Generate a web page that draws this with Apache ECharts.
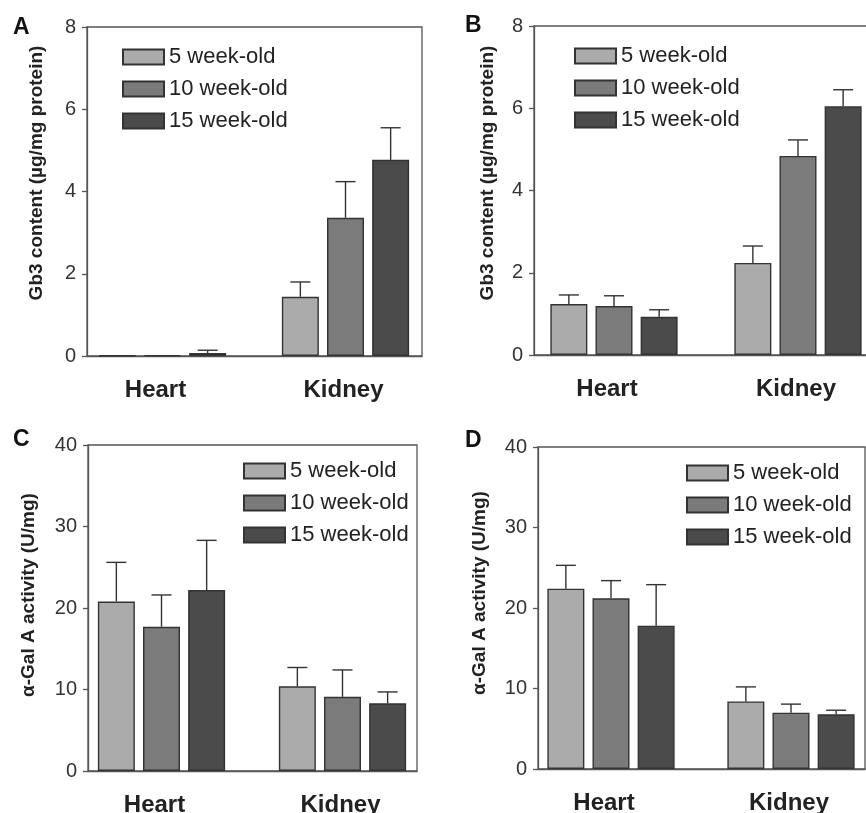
<!DOCTYPE html>
<html>
<head>
<meta charset="utf-8">
<script src="https://cdn.jsdelivr.net/npm/echarts@6/dist/echarts.min.js"></script>
<style>
html,body{margin:0;padding:0;background:#fff;}
#chart{width:866px;height:813px;}
</style>
</head>
<body>
<div id="chart"></div>
<script>
// ---- data ----
const categories = ['Heart', 'Kidney'];
const seriesNames = ['5 week-old', '10 week-old', '15 week-old'];
const panelLetters = ['A', 'B', 'C', 'D'];
const yTitles = ['Gb3 content (\u00b5g/mg protein)', 'Gb3 content (\u00b5g/mg protein)',
                 '\u03b1-Gal A activity (U/mg)', '\u03b1-Gal A activity (U/mg)'];
const gb3Ticks = [0, 2, 4, 6, 8];
const galTicks = [0, 10, 20, 30, 40];

// means [series][category]
const meansA = [[0.01, 1.44], [0.02, 3.36], [0.07, 4.77]];
const errA   = [[0, 0.36], [0, 0.88], [0.07, 0.78]];
const meansB = [[1.24, 2.24], [1.19, 4.84], [0.93, 6.05]];
const errB   = [[0.22, 0.41], [0.25, 0.39], [0.17, 0.40]];
const meansC = [[20.8, 10.4], [17.7, 9.1], [22.2, 8.3]];
const errC   = [[4.8, 2.3], [3.9, 3.3], [6.1, 1.4]];
const meansD = [[22.4, 8.4], [21.2, 7.0], [17.8, 6.8]];
const errD   = [[2.9, 1.8], [2.2, 1.06], [5.1, 0.5]];

// ---- style / layout ----
const FONT = 'Liberation Sans, Arial, Helvetica, sans-serif';
const colors = ['#ababab', '#7b7b7b', '#4b4b4b'];
const axisColor = '#555';
const barWidth = 37;
const barGapRatio = 0.22;
const W = 866;
const H = 813;
const catLabelStyle = { fontSize: 24, fontWeight: 'bold', color: '#222', fontFamily: FONT };

const panels = [
  { means: meansA, errs: errA, ticks: gb3Ticks,
    frame: {l: 87, r: 422, t: 27, b: 356}, data: {l: 71, r: 437},
    legend: {left: 122, top: 46}, letter: [13, 27.5], title: [37, 173] },
  { means: meansB, errs: errB, ticks: gb3Ticks,
    frame: {l: 534, r: 875, t: 26, b: 355}, data: {l: 522, r: 890},
    legend: {left: 574, top: 45}, letter: [465, 25.5], title: [488, 173] },
  { means: meansC, errs: errC, ticks: galTicks,
    frame: {l: 88, r: 417, t: 445, b: 771}, data: {l: 71, r: 433},
    legend: {left: 243, top: 460}, letter: [13, 440], title: [29, 595] },
  { means: meansD, errs: errD, ticks: galTicks,
    frame: {l: 538, r: 865, t: 447, b: 769}, data: {l: 521, r: 881},
    legend: {left: 686, top: 462}, letter: [465, 441], title: [480, 593] }
];

const grid = [], xAxis = [], yAxis = [], series = [], legend = [], graphic = [];

panels.forEach((p, i) => {
  const ymin = p.ticks[0], ymax = p.ticks[p.ticks.length - 1];
  const interval = p.ticks[1] - p.ticks[0];
  grid[i] = { left: p.frame.l, right: W - p.frame.r, top: p.frame.t, bottom: H - p.frame.b,
              show: true, borderColor: axisColor, borderWidth: 1.3,
              containLabel: false, outerBoundsMode: 'none' };
  grid[4 + i] = { left: p.data.l, right: W - p.data.r, top: p.frame.t, bottom: H - p.frame.b,
                  containLabel: false, outerBoundsMode: 'none' };
  xAxis[i] = { type: 'value', gridIndex: i, min: 0, max: 1,
               axisLine: { show: true, lineStyle: { color: axisColor, width: 1.3 } },
               axisTick: { show: false }, axisLabel: { show: false }, splitLine: { show: false } };
  yAxis[i] = { type: 'value', gridIndex: i, min: ymin, max: ymax, interval: interval,
               axisLine: { show: true, lineStyle: { color: axisColor, width: 1.3 } },
               axisTick: { show: true, inside: false, length: 5, lineStyle: { color: axisColor, width: 1.3 } },
               axisLabel: { fontSize: 20, color: '#333', fontFamily: FONT, margin: 11 },
               splitLine: { show: false } };
  xAxis[4 + i] = { type: 'category', gridIndex: 4 + i, data: categories,
                   axisLine: { show: false }, axisTick: { show: false },
                   axisLabel: Object.assign({}, catLabelStyle, {
                     margin: 22,
                     formatter: function (v, idx) { return (idx === 0 ? '{h|' : '{k|') + v + '}'; },
                     rich: {
                       h: Object.assign({}, catLabelStyle, { padding: [0, 14, 0, 0] }),
                       k: Object.assign({}, catLabelStyle, { padding: [0, 4, 0, 0] })
                     }
                   }) };
  yAxis[4 + i] = { type: 'value', gridIndex: 4 + i, min: ymin, max: ymax, show: false };

  seriesNames.forEach((name, s) => {
    series.push({
      type: 'bar', name: name, xAxisIndex: 4 + i, yAxisIndex: 4 + i,
      data: p.means[s], barWidth: barWidth, barGap: (barGapRatio * 100) + '%',
      itemStyle: { color: colors[s], borderColor: '#333', borderWidth: 1.4 },
      z: 2, silent: true
    });
  });
  seriesNames.forEach((name, s) => {
    const offset = (s - 1) * barWidth * (1 + barGapRatio);
    series.push({
      type: 'custom', name: 'err ' + name, xAxisIndex: 4 + i, yAxisIndex: 4 + i,
      data: categories.map((c, k) => [k, p.means[s][k], p.errs[s][k]]),
      encode: { x: 0, y: 1 }, z: 3, silent: true,
      renderItem: function (params, api) {
        const k = api.value(0), m = api.value(1), e = api.value(2);
        if (!(e > 0)) return null;
        const base = api.coord([k, m]);
        const top = api.coord([k, m + e]);
        const cx = base[0] + offset;
        const st = { stroke: '#333', lineWidth: 1.4 };
        return { type: 'group', children: [
          { type: 'line', shape: { x1: cx, y1: base[1], x2: cx, y2: top[1] }, style: st },
          { type: 'line', shape: { x1: cx - 10, y1: top[1], x2: cx + 10, y2: top[1] }, style: st }
        ]};
      }
    });
  });

  legend.push({
    data: seriesNames, orient: 'vertical', left: p.legend.left, top: p.legend.top,
    padding: 0, icon: 'rect', itemWidth: 41, itemHeight: 15, itemGap: 10, selectedMode: false,
    textStyle: { fontSize: 22, color: '#222', fontFamily: FONT }
  });

  graphic.push({
    type: 'text', x: p.letter[0], y: p.letter[1],
    style: { text: panelLetters[i], font: 'bold 23px ' + FONT, fill: '#111',
             textAlign: 'left', textVerticalAlign: 'middle' }
  });
  graphic.push({
    type: 'text', x: p.title[0], y: p.title[1], rotation: Math.PI / 2,
    style: { text: yTitles[i], font: 'bold 19px ' + FONT, fill: '#222',
             textAlign: 'center', textVerticalAlign: 'middle' }
  });
});

const chart = echarts.init(document.getElementById('chart'), null, { renderer: 'canvas' });
chart.setOption({
  animation: false,
  backgroundColor: '#fff',
  grid: grid, xAxis: xAxis, yAxis: yAxis, series: series, legend: legend, graphic: graphic
});
</script>
</body>
</html>
